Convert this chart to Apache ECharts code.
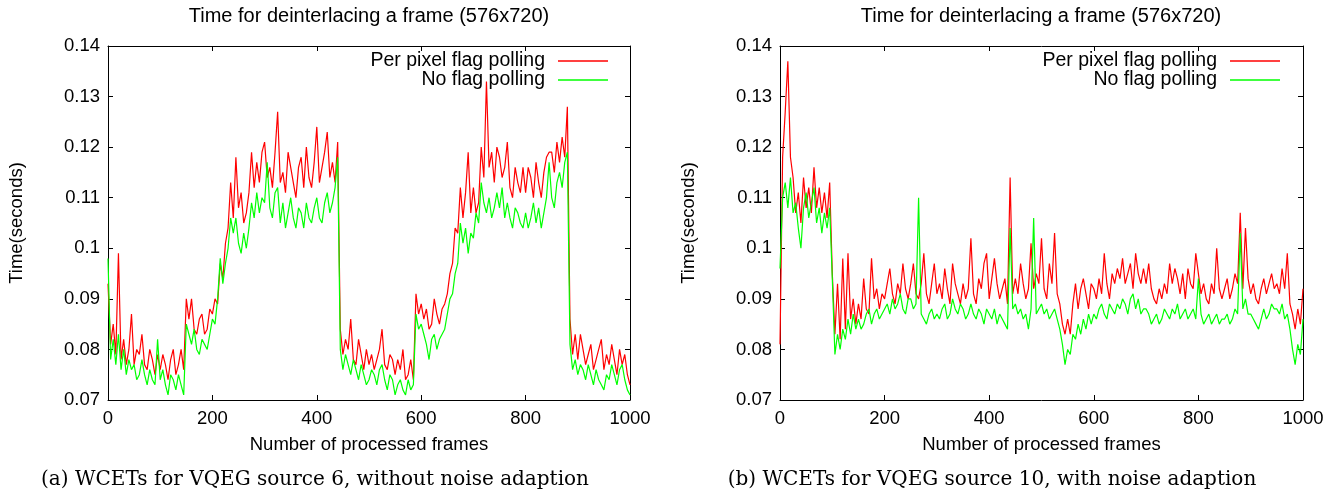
<!DOCTYPE html>
<html><head><meta charset="utf-8">
<script src="https://cdn.jsdelivr.net/npm/echarts@6/dist/echarts.min.js"></script>
<style>html,body{margin:0;padding:0;background:#fff}#c{width:1340px;height:499px}</style>
</head><body><div id="c"></div>
<script>
// Sample grid: every 5th processed frame, 0..1000
const FRAME_STEP = 5;
const frames = [];
for (let f = 0; f <= 1000; f += FRAME_STEP) frames.push(f);

const seriesNames = ['Per pixel flag polling', 'No flag polling'];
const xTicks = [0, 200, 400, 600, 800, 1000];
const yTicks = [0.07, 0.08, 0.09, 0.1, 0.11, 0.12, 0.13, 0.14];

// (a) VQEG source 6, without noise adaption
const aPerPixel = [
0.093,0.081,0.085,0.079,0.099,0.078,0.082,0.077,0.080,0.087,
0.077,0.080,0.079,0.083,0.077,0.076,0.080,0.078,0.075,0.079,
0.076,0.079,0.077,0.074,0.078,0.080,0.075,0.077,0.080,0.076,
0.090,0.086,0.090,0.084,0.083,0.086,0.087,0.083,0.084,0.088,
0.087,0.090,0.089,0.097,0.094,0.101,0.104,0.113,0.106,0.118,
0.108,0.111,0.105,0.107,0.111,0.119,0.112,0.117,0.113,0.119,
0.121,0.114,0.116,0.112,0.119,0.127,0.113,0.115,0.111,0.119,
0.116,0.113,0.110,0.116,0.118,0.112,0.120,0.114,0.112,0.117,
0.124,0.113,0.116,0.119,0.123,0.114,0.117,0.113,0.121,0.084,
0.079,0.082,0.080,0.086,0.078,0.077,0.082,0.079,0.076,0.080,
0.077,0.079,0.076,0.078,0.080,0.084,0.077,0.076,0.079,0.078,
0.075,0.078,0.076,0.080,0.074,0.075,0.078,0.074,0.091,0.087,
0.089,0.086,0.088,0.084,0.085,0.090,0.087,0.085,0.088,0.089,
0.091,0.095,0.097,0.104,0.103,0.112,0.106,0.111,0.119,0.107,
0.112,0.107,0.109,0.120,0.114,0.133,0.116,0.119,0.113,0.120,
0.118,0.114,0.116,0.121,0.112,0.110,0.116,0.113,0.111,0.116,
0.111,0.116,0.114,0.110,0.117,0.113,0.110,0.115,0.118,0.119,
0.119,0.115,0.121,0.117,0.122,0.118,0.128,0.086,0.079,0.083,
0.078,0.083,0.080,0.077,0.079,0.081,0.076,0.078,0.080,0.082,
0.076,0.079,0.077,0.081,0.078,0.075,0.080,0.077,0.079,0.075,0.073
];
const aNoFlag = [
0.098,0.078,0.082,0.077,0.083,0.076,0.080,0.075,0.078,0.076,
0.077,0.074,0.075,0.078,0.075,0.073,0.076,0.074,0.073,0.082,
0.074,0.076,0.073,0.071,0.075,0.074,0.072,0.075,0.073,0.071,
0.085,0.083,0.081,0.084,0.080,0.079,0.082,0.081,0.080,0.083,
0.086,0.085,0.090,0.098,0.093,0.097,0.100,0.106,0.103,0.106,
0.101,0.099,0.103,0.100,0.104,0.109,0.106,0.111,0.107,0.110,
0.109,0.117,0.108,0.106,0.111,0.112,0.105,0.109,0.104,0.107,
0.110,0.106,0.104,0.108,0.107,0.104,0.109,0.106,0.105,0.108,
0.110,0.106,0.105,0.109,0.111,0.107,0.109,0.112,0.118,0.080,
0.076,0.079,0.077,0.075,0.078,0.076,0.074,0.077,0.075,0.073,
0.074,0.076,0.075,0.073,0.076,0.077,0.074,0.072,0.075,0.074,
0.071,0.073,0.074,0.072,0.071,0.074,0.072,0.073,0.087,0.084,
0.085,0.083,0.081,0.078,0.082,0.083,0.080,0.082,0.083,0.084,
0.087,0.090,0.091,0.095,0.097,0.105,0.101,0.104,0.099,0.103,
0.102,0.107,0.105,0.113,0.109,0.107,0.110,0.106,0.108,0.111,
0.108,0.112,0.106,0.109,0.106,0.104,0.108,0.107,0.105,0.104,
0.107,0.104,0.106,0.109,0.105,0.108,0.104,0.107,0.110,0.117,
0.110,0.108,0.113,0.115,0.112,0.117,0.119,0.081,0.076,0.078,
0.075,0.077,0.076,0.074,0.077,0.075,0.073,0.076,0.074,0.073,
0.072,0.075,0.074,0.077,0.075,0.073,0.076,0.077,0.074,0.072,0.071
];

// (b) VQEG source 10, with noise adaption
const bPerPixel = [
0.081,0.118,0.127,0.137,0.118,0.114,0.107,0.111,0.105,0.114,
0.108,0.112,0.107,0.116,0.108,0.112,0.107,0.111,0.106,0.113,
0.095,0.083,0.093,0.082,0.098,0.084,0.099,0.086,0.090,0.085,
0.089,0.086,0.094,0.088,0.087,0.098,0.090,0.092,0.088,0.091,
0.090,0.093,0.096,0.091,0.089,0.093,0.091,0.097,0.092,0.090,
0.093,0.097,0.091,0.090,0.093,0.099,0.091,0.089,0.093,0.097,
0.091,0.093,0.090,0.096,0.092,0.089,0.097,0.093,0.091,0.089,
0.093,0.090,0.092,0.102,0.091,0.089,0.094,0.092,0.097,0.099,
0.090,0.094,0.098,0.093,0.090,0.092,0.094,0.089,0.114,0.091,
0.094,0.091,0.097,0.093,0.090,0.092,0.101,0.092,0.095,0.093,
0.102,0.092,0.090,0.097,0.093,0.103,0.091,0.089,0.085,0.083,
0.086,0.083,0.089,0.093,0.088,0.092,0.094,0.091,0.088,0.093,
0.092,0.090,0.094,0.091,0.099,0.093,0.090,0.095,0.093,0.096,
0.094,0.098,0.093,0.095,0.097,0.092,0.099,0.095,0.093,0.096,
0.093,0.097,0.092,0.090,0.089,0.092,0.090,0.093,0.091,0.097,
0.093,0.096,0.094,0.091,0.095,0.090,0.096,0.093,0.092,0.099,
0.095,0.091,0.093,0.090,0.089,0.093,0.091,0.100,0.092,0.090,
0.092,0.094,0.090,0.092,0.095,0.093,0.107,0.092,0.104,0.094,
0.091,0.093,0.090,0.089,0.092,0.094,0.091,0.093,0.095,0.092,
0.093,0.091,0.096,0.092,0.099,0.089,0.087,0.084,0.088,0.085,0.092
];
const bNoFlag = [
0.096,0.110,0.113,0.108,0.114,0.107,0.109,0.104,0.100,0.108,
0.111,0.106,0.109,0.112,0.105,0.108,0.103,0.107,0.104,0.108,
0.094,0.079,0.083,0.080,0.084,0.082,0.086,0.083,0.087,0.084,
0.086,0.084,0.085,0.087,0.088,0.085,0.087,0.088,0.086,0.087,
0.088,0.089,0.087,0.090,0.088,0.089,0.091,0.088,0.087,0.090,
0.090,0.088,0.089,0.110,0.087,0.086,0.085,0.087,0.088,0.086,
0.087,0.086,0.088,0.089,0.086,0.087,0.090,0.088,0.087,0.089,
0.088,0.086,0.087,0.089,0.087,0.086,0.088,0.087,0.085,0.088,
0.087,0.086,0.088,0.085,0.087,0.086,0.085,0.084,0.104,0.088,
0.089,0.087,0.088,0.086,0.087,0.084,0.088,0.106,0.087,0.088,
0.089,0.087,0.088,0.086,0.087,0.088,0.086,0.084,0.081,0.077,
0.080,0.079,0.083,0.082,0.085,0.083,0.086,0.084,0.087,0.085,
0.087,0.086,0.088,0.089,0.087,0.086,0.089,0.088,0.087,0.089,
0.088,0.090,0.089,0.087,0.090,0.091,0.088,0.090,0.087,0.088,
0.088,0.087,0.085,0.086,0.087,0.085,0.086,0.088,0.087,0.086,
0.088,0.087,0.089,0.086,0.087,0.088,0.086,0.087,0.088,0.086,
0.094,0.087,0.085,0.086,0.087,0.085,0.086,0.087,0.085,0.086,
0.086,0.087,0.085,0.086,0.088,0.087,0.103,0.088,0.090,0.087,
0.087,0.086,0.085,0.084,0.086,0.088,0.086,0.087,0.089,0.088,
0.088,0.087,0.089,0.086,0.087,0.084,0.080,0.077,0.081,0.079,0.086
];

const titleText = 'Time for deinterlacing a frame (576x720)';
const captions = ['(a) WCETs for VQEG source 6, without noise adaption',
                  '(b) WCETs for VQEG source 10, with noise adaption'];

const SANS = 'Liberation Sans, Arial, sans-serif';
const txt = {fontFamily: SANS, fontSize: 18.5, color: '#000', fontWeight: 'normal'};
const titleTxt = {fontFamily: SANS, fontSize: 20, color: '#000', fontWeight: 'normal'};
const legendTxt = {fontFamily: SANS, fontSize: 19.5, color: '#000', fontWeight: 'normal'};
const capTxt = {fontFamily: 'DejaVu Serif', fontSize: 20, color: '#000', fontWeight: 'normal'};
const lineCol = '#000';

function pairs(vals) { return frames.map((f, i) => [f, vals[i]]); }

const grids = [
  {left: 108, top: 46, width: 522, height: 354},
  {left: 780, top: 46, width: 523, height: 354}
];

const xAxes = [], yAxes = [];
grids.forEach((g, gi) => {
  xAxes.push({gridIndex: gi, type: 'value', position: 'bottom', min: xTicks[0], max: xTicks[xTicks.length-1], interval: 200,
    name: 'Number of processed frames', nameLocation: 'middle', nameGap: 35, nameTextStyle: txt,
    axisLine: {onZero: false, lineStyle: {color: lineCol, width: 1}},
    axisTick: {inside: true, length: 5, lineStyle: {color: lineCol}},
    axisLabel: Object.assign({margin: 9, formatter: v => String(v)}, txt), splitLine: {show: false}});
  xAxes.push({gridIndex: gi, type: 'value', position: 'top', min: 0, max: 1000, interval: 200,
    axisLine: {onZero: false, lineStyle: {color: lineCol, width: 1}},
    axisTick: {inside: true, length: 5, lineStyle: {color: lineCol}},
    axisLabel: {show: false}, splitLine: {show: false}});
  yAxes.push({gridIndex: gi, type: 'value', position: 'left', min: yTicks[0], max: yTicks[yTicks.length-1], interval: 0.01,
    name: 'Time(seconds)', nameLocation: 'middle', nameGap: 82, nameTextStyle: txt,
    axisLine: {onZero: false, lineStyle: {color: lineCol, width: 1}},
    axisTick: {inside: true, length: 5, lineStyle: {color: lineCol}},
    axisLabel: Object.assign({margin: 8}, txt), splitLine: {show: false}});
  yAxes.push({gridIndex: gi, type: 'value', position: 'right', min: 0.07, max: 0.14, interval: 0.01,
    axisLine: {onZero: false, lineStyle: {color: lineCol, width: 1}},
    axisTick: {inside: true, length: 5, lineStyle: {color: lineCol}},
    axisLabel: {show: false}, splitLine: {show: false}});
});

function mkSeries(name, vals, gi, color) {
  return {name: name, type: 'line', xAxisIndex: gi*2, yAxisIndex: gi*2, data: pairs(vals),
    symbol: 'none', showSymbol: false, smooth: false,
    lineStyle: {color: color, width: 1.2}, itemStyle: {color: color}, emphasis: {disabled: true}};
}

function mkLegend(name, right, top) {
  return {data: [name], right: right, top: top, orient: 'horizontal', align: 'right', padding: 0,
    icon: 'rect', itemWidth: 50, itemHeight: 1.5, selectedMode: false,
    textStyle: Object.assign({padding: [0, 8, 0, 0]}, legendTxt)};
}

const option = {
  animation: false,
  backgroundColor: '#fff',
  title: [
    {text: titleText, left: 369, top: 6, textAlign: 'center', padding: 0, textStyle: titleTxt},
    {text: titleText, left: 1041, top: 6, textAlign: 'center', padding: 0, textStyle: titleTxt},
    {text: captions[0], left: 315, top: 470, textAlign: 'center', padding: 0, textStyle: capTxt},
    {text: captions[1], left: 992, top: 470, textAlign: 'center', padding: 0, textStyle: capTxt}
  ],
  legend: [
    mkLegend(seriesNames[0], 732, 51), mkLegend(seriesNames[1], 732, 70),
    mkLegend(seriesNames[0], 60, 51), mkLegend(seriesNames[1], 60, 70)
  ],
  grid: grids,
  xAxis: xAxes,
  yAxis: yAxes,
  series: [
    mkSeries(seriesNames[0], aPerPixel, 0, '#ff0000'),
    mkSeries(seriesNames[1], aNoFlag, 0, '#00ff00'),
    mkSeries(seriesNames[0], bPerPixel, 1, '#ff0000'),
    mkSeries(seriesNames[1], bNoFlag, 1, '#00ff00')
  ]
};

const chart = echarts.init(document.getElementById('c'), null, {renderer: 'canvas'});
chart.setOption(option);
</script>
</body></html>
